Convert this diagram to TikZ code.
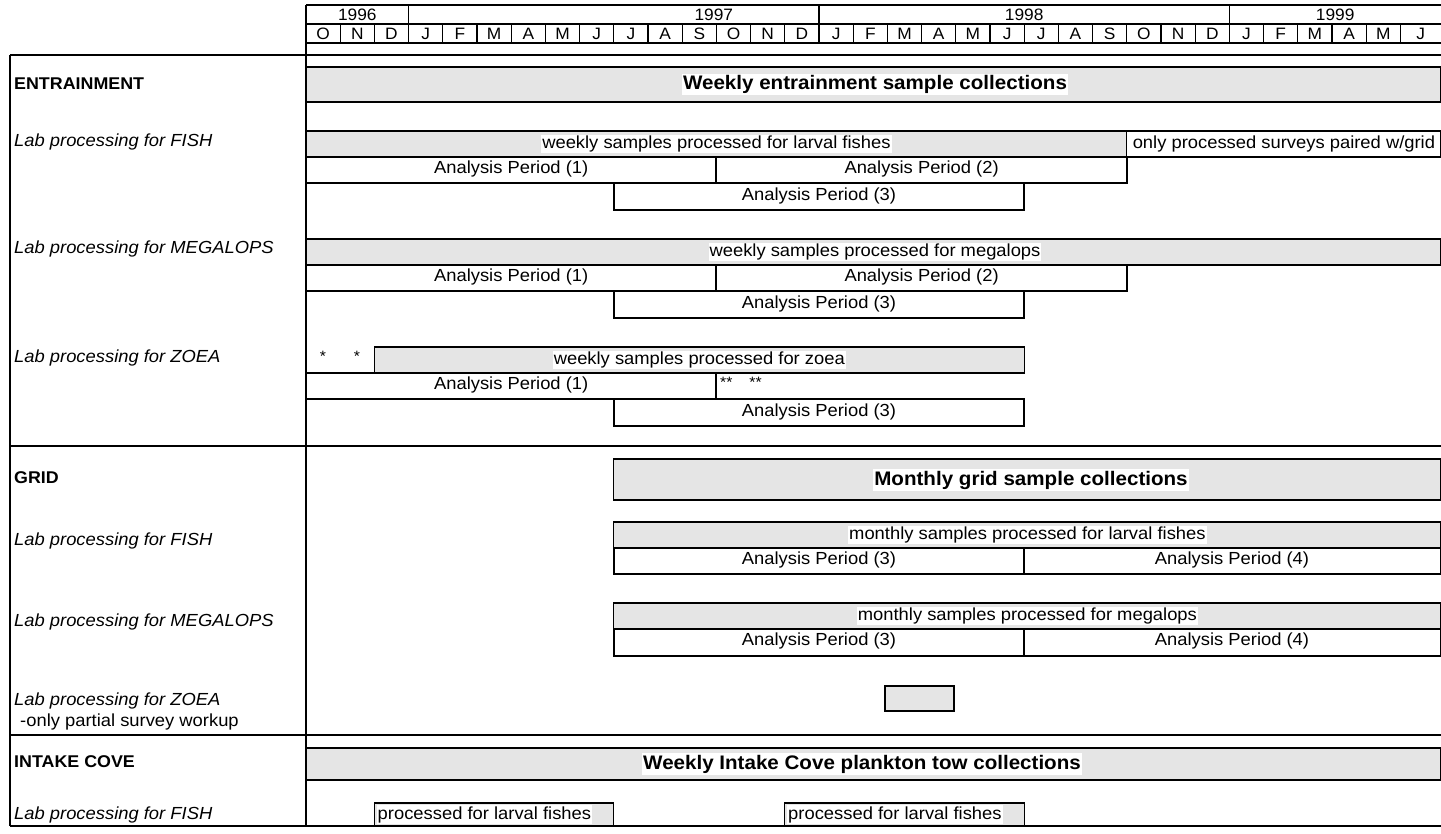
\documentclass[tikz,border=0pt]{standalone}
\usepackage{fontspec}
\setmainfont{Liberation Sans}[FakeStretch=1.05]
\begin{document}
\begin{tikzpicture}[x=1pt,y=-1pt,
  graybar/.style={draw=black, line width=1.2pt, fill=black!10},
  apbox/.style={draw=black, line width=2pt, fill=white},
  whitebox/.style={draw=black, line width=1.2pt, fill=white},
  barlbl/.style={font=\fontsize{17.5}{20}\selectfont, fill=white, inner sep=1pt},
  aplbl/.style={font=\fontsize{17.5}{20}\selectfont, inner sep=0pt},
  ttl/.style={font=\bfseries\fontsize{19.6}{22}\selectfont, fill=white, inner sep=1.5pt},
  sec/.style={font=\bfseries\fontsize{17}{20}\selectfont, anchor=west, inner sep=0pt},
  side/.style={font=\itshape\fontsize{17.5}{20}\selectfont, anchor=west, inner sep=0pt},
  hdr/.style={font=\fontsize{16.5}{18}\selectfont, inner sep=0pt},
  star/.style={font=\fontsize{15}{16}\selectfont, inner sep=0pt},
  frame/.style={line width=2pt},
  thinl/.style={line width=1.2pt}]
\useasboundingbox (0,0) rectangle (1441,833);
\fill[white] (0,0) rectangle (1441,833);

% ---------------- header ----------------
\draw[frame] (306,5) -- (1441,5);
\draw[thinl] (306,24) -- (1441,24);
\draw[frame] (306,43) -- (1441,43);
\foreach \xa in {306,408.6,819,1229.4}{\draw[thinl] (\xa,5) -- (\xa,24);}
\node[hdr] (y96) at (357.3,14.5) {1996};
\node[hdr] (y97) at (713.8,14.5) {1997};
\node[hdr] (y98) at (1024.2,14.5) {1998};
\node[hdr] (y99) at (1335.2,14.5) {1999};
\foreach \m [count=\i from 0] in {O,N,D,J,F,M,A,M,J,J,A,S,O,N,D,J,F,M,A,M,J,J,A,S,O,N,D,J,F,M,A,M,J}{
  \pgfmathsetmacro{\xl}{306+\i*34.2}
  \pgfmathsetmacro{\xr}{\i==32 ? 1441 : 306+(\i+1)*34.2}
  \draw[thinl] (\xl,24) -- (\xl,43);
  \node[hdr] (mon\i) at ({(\xl+\xr)/2},33.5) {\m};
}

% ---------------- ENTRAINMENT ----------------
\draw[graybar] (306,67) rectangle (1441,102);
\node[ttl] (entttl) at (875,84.5) {Weekly entrainment sample collections};

\draw[graybar] (306,131) rectangle (1126.8,157);
\node[barlbl] (efish) at (716.4,144) {weekly samples processed for larval fishes};
\draw[whitebox] (1126.8,131) rectangle (1441,157);
\node[aplbl] (eonly) at (1283.9,144) {only processed surveys paired w/grid};
\draw[apbox] (306,157) rectangle (716.4,183);
\node[aplbl] (efap1) at (511.2,169) {Analysis Period (1)};
\draw[apbox] (716.4,157) rectangle (1126.8,183);
\node[aplbl] (efap2) at (921.6,169) {Analysis Period (2)};
\draw[apbox] (613.8,183) rectangle (1024.2,210);
\node[aplbl] (efap3) at (819,196) {Analysis Period (3)};

\draw[graybar] (306,239) rectangle (1441,265);
\node[barlbl] (emeg) at (875,252) {weekly samples processed for megalops};
\draw[apbox] (306,265) rectangle (716.4,291);
\node[aplbl] (emap1) at (511.2,277) {Analysis Period (1)};
\draw[apbox] (716.4,265) rectangle (1126.8,291);
\node[aplbl] (emap2) at (921.6,277) {Analysis Period (2)};
\draw[apbox] (613.8,291) rectangle (1024.2,318);
\node[aplbl] (emap3) at (819,304) {Analysis Period (3)};

\node[star] (zs1) at (323,356) {*};
\node[star] (zs2) at (357,356) {*};
\draw[graybar] (374.4,347) rectangle (1024.2,373);
\node[barlbl] (ezoea) at (699.3,360) {weekly samples processed for zoea};
\draw[apbox] (306,373) rectangle (716.4,399);
\node[aplbl] (ezap1) at (511.2,385) {Analysis Period (1)};
\node[star, anchor=west] (zs3) at (720,382) {**\hspace{17pt}**};
\draw[apbox] (613.8,399) rectangle (1024.2,426);
\node[aplbl] (ezap3) at (819,412) {Analysis Period (3)};

% ---------------- GRID ----------------
\draw[graybar] (613.8,459) rectangle (1441,500);
\node[ttl] (gridttl) at (1031,480) {Monthly grid sample collections};

\draw[graybar] (613.8,522) rectangle (1441,548);
\node[barlbl] (gfish) at (1027.4,535) {monthly samples processed for larval fishes};
\draw[apbox] (613.8,548) rectangle (1024.2,574);
\node[aplbl] (gfap3) at (819,560) {Analysis Period (3)};
\draw[apbox] (1024.2,548) rectangle (1441,574);
\node[aplbl] (gfap4) at (1232,560) {Analysis Period (4)};

\draw[graybar] (613.8,603) rectangle (1441,629);
\node[barlbl] (gmeg) at (1027.4,616) {monthly samples processed for megalops};
\draw[apbox] (613.8,629) rectangle (1024.2,656);
\node[aplbl] (gmap3) at (819,641) {Analysis Period (3)};
\draw[apbox] (1024.2,629) rectangle (1441,656);
\node[aplbl] (gmap4) at (1232,641) {Analysis Period (4)};

\draw[graybar, line width=1.6pt] (885,686) rectangle (954,711);

% ---------------- INTAKE COVE ----------------
\draw[graybar] (306,748) rectangle (1441,780);
\node[ttl] (intttl) at (862,764) {Weekly Intake Cove plankton tow collections};
\draw[graybar] (374.4,803) rectangle (613.8,826);
\node[barlbl, anchor=west] (ip1) at (376.5,814.5) {processed for larval fishes};
\draw[graybar] (784.8,803) rectangle (1024.2,826);
\node[barlbl, anchor=west] (ip2) at (787,814.5) {processed for larval fishes};

% ---------------- frame ----------------
\draw[frame] (10,55) -- (1441,55);
\draw[frame] (10,446) -- (1441,446);
\draw[frame] (10,735) -- (1441,735);
\draw[frame] (10,826) -- (1441,826);
\draw[frame] (10,55) -- (10,826);
\draw[frame] (306,5) -- (306,826);

% ---------------- left labels ----------------
\node[sec] (lent) at (14,84) {ENTRAINMENT};
\node[side] (l1) at (14,142) {Lab processing for FISH};
\node[side] (l2) at (14,249) {Lab processing for MEGALOPS};
\node[side] (l3) at (14,358) {Lab processing for ZOEA};
\node[sec] (lgrid) at (14,478) {GRID};
\node[side] (l4) at (14,541) {Lab processing for FISH};
\node[side] (l5) at (14,622) {Lab processing for MEGALOPS};
\node[side] (l6) at (14,701) {Lab processing for ZOEA};
\node[side, font=\fontsize{17.5}{20}\selectfont] (l6b) at (20,722) {-only partial survey workup};
\node[sec] (lint) at (14,762) {INTAKE COVE};
\node[side] (l7) at (14,815) {Lab processing for FISH};
\end{tikzpicture}
\end{document}
